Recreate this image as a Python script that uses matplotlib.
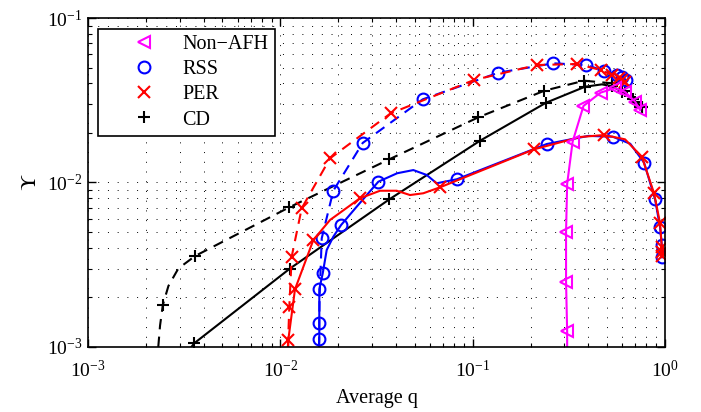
import matplotlib
matplotlib.use("Agg")
import matplotlib.pyplot as plt
from matplotlib.lines import Line2D
from matplotlib.ticker import LogLocator, NullFormatter

plt.rcParams['font.family'] = 'serif'
plt.rcParams['font.serif'] = ['Liberation Serif', 'DejaVu Serif']
plt.rcParams['mathtext.fontset'] = 'stix'
plt.rcParams['font.size'] = 12

# Non-AFH (solid, magenta)
nonafh_q = [0.310, 0.310, 0.306, 0.306, 0.310, 0.331, 0.377, 0.463, 0.55, 0.62, 0.70, 0.742]
nonafh_y = [1.0e-3, 1.25e-3, 2.5e-3, 5.0e-3, 9.8e-3, 0.0177, 0.0292, 0.0352, 0.0375, 0.0355, 0.031, 0.0276]
nonafh_mk = [1, 2, 3, 4, 5, 6, 7, 8, 9, 10, 11]

# RSS solid / dashed (blue)
rss_s_q = [0.0159, 0.01595, 0.01595, 0.01595, 0.01662, 0.01743, 0.01886, 0.02069, 0.02496, 0.03233,
           0.0405, 0.04916, 0.0577, 0.0650, 0.0827, 0.2429, 0.40, 0.5353, 0.66, 0.7789,
           0.8882, 0.943, 0.9625, 0.9625]
rss_s_y = [1.0e-3, 1.113e-3, 1.405e-3, 2.243e-3, 2.805e-3, 3.89e-3, 4.68e-3, 5.51e-3, 7.13e-3, 0.01011,
           0.01138, 0.0119, 0.01111, 9.89e-3, 0.01046, 0.01714, 0.0192, 0.01898, 0.0172, 0.0132,
           7.9e-3, 5.34e-3, 4.17e-3, 3.51e-3]
rss_s_mk = [1, 2, 3, 4, 7, 9, 14, 15, 17, 19, 20, 21, 22, 23]

rss_d_q = [0.0159, 0.0160, 0.01642, 0.01886, 0.02682, 0.05502, 0.136, 0.2628, 0.3888, 0.4824, 0.5615, 0.60, 0.63]
rss_d_y = [1.0e-3, 2.0e-3, 4.58e-3, 8.91e-3, 0.0174, 0.03204, 0.04649, 0.05303, 0.05179, 0.04781, 0.04502, 0.0435, 0.042]
rss_d_mk = [2, 3, 4, 5, 6, 7, 8, 9, 10, 11, 12]

# PER solid / dashed (red)
per_s_q = [0.0110, 0.01101, 0.01192, 0.01485, 0.01814, 0.02597, 0.0330, 0.0403, 0.04725, 0.0554,
           0.06769, 0.2086, 0.3618, 0.4824, 0.62, 0.7577, 0.8776, 0.943, 0.9625, 0.9625, 0.9625]
per_s_y = [1.0e-3, 1.11e-3, 2.24e-3, 4.47e-3, 5.92e-3, 8.02e-3, 8.91e-3, 8.91e-3, 8.39e-3, 8.6e-3,
           9.35e-3, 0.01591, 0.0189, 0.01944, 0.0183, 0.01435, 8.6e-3, 5.65e-3, 4.07e-3, 3.8e-3, 3.57e-3]
per_s_mk = [1, 2, 3, 5, 10, 11, 13, 15, 16, 17, 18, 19, 20]

per_d_q = [0.01095, 0.01114, 0.01146, 0.01292, 0.01814, 0.03751, 0.1017, 0.2154, 0.3477, 0.4636, 0.5289, 0.5771, 0.60, 0.62]
per_d_y = [1.0e-3, 1.76e-3, 3.54e-3, 6.97e-3, 0.01403, 0.02634, 0.04199, 0.05179, 0.05252, 0.04829, 0.04502, 0.04299, 0.0420, 0.0410]
per_d_mk = [1, 2, 3, 4, 5, 6, 7, 8, 9, 10, 11, 12, 13]

# CD solid / dashed (black)
cd_s_q = [3.45e-3, 3.57e-3, 0.01123, 0.03688, 0.1093, 0.2408, 0.3842, 0.47, 0.5289, 0.60, 0.68, 0.7577]
cd_s_y = [1.0e-3, 1.054e-3, 3.0e-3, 7.9e-3, 0.01795, 0.03055, 0.03822, 0.0395, 0.0385, 0.0356, 0.032, 0.0289]
cd_s_mk = [1, 2, 3, 4, 5, 6, 8, 9, 10, 11]

cd_d_q = [2.32e-3, 2.37e-3, 2.45e-3, 2.62e-3, 2.95e-3, 3.60e-3, 0.01114, 0.03688, 0.1071, 0.2360,
          0.3796, 0.5289, 0.62, 0.70, 0.7577]
cd_d_y = [1.0e-3, 1.35e-3, 1.80e-3, 2.35e-3, 3.0e-3, 3.57e-3, 7.07e-3, 0.01384, 0.02491, 0.03614,
          0.04158, 0.0401, 0.036, 0.031, 0.0289]
cd_d_mk = [2, 5, 6, 7, 8, 9, 10, 11, 12, 13, 14]

dash = (0, (5, 3.5))
fig = plt.figure(figsize=(7.01, 4.12), dpi=100)
ax = fig.add_axes([0.1255, 0.1578, 0.8231, 0.7985])

common = dict(lw=1.5, ms=8.5, mew=1.5, mfc='none')
ax.plot(cd_d_q, cd_d_y, color='k', ls=dash, marker='+', markevery=cd_d_mk, **common)
ax.plot(cd_s_q, cd_s_y, color='k', ls='-', marker='+', markevery=cd_s_mk, **common)
ax.plot(rss_d_q, rss_d_y, color='#0000ff', ls=dash, marker='o', markevery=rss_d_mk, **common)
ax.plot(rss_s_q, rss_s_y, color='#0000ff', ls='-', marker='o', markevery=rss_s_mk, **common)
ax.plot(per_d_q, per_d_y, color='#ff0000', ls=dash, marker='x', markevery=per_d_mk, **common)
ax.plot(per_s_q, per_s_y, color='#ff0000', ls='-', marker='x', markevery=per_s_mk, **common)
ax.plot(nonafh_q, nonafh_y, color='#ff00ff', ls='-', marker='<', markevery=nonafh_mk, **common)

ax.set_xscale('log')
ax.set_yscale('log')
ax.set_xlim(1e-3, 1)
ax.set_ylim(1e-3, 1e-1)
ax.xaxis.set_major_locator(LogLocator(base=10, numticks=10))
ax.xaxis.set_minor_locator(LogLocator(base=10, subs=range(2, 10), numticks=10))
ax.xaxis.set_minor_formatter(NullFormatter())
ax.yaxis.set_minor_formatter(NullFormatter())

ax.grid(True, which='both', color='k', ls=(0, (1, 9)), lw=0.7)
ax.tick_params(which='both', direction='in', top=True, right=True, labelsize=14)
ax.tick_params(axis='x', which='major', pad=9)
ax.tick_params(axis='y', which='major', pad=4)
ax.tick_params(which='major', length=6, width=1)
ax.tick_params(which='minor', length=3, width=0.8)
for s in ax.spines.values():
    s.set_linewidth(1.2)

ax.set_xlabel('Average q', fontsize=14.5, labelpad=6)
ax.set_ylabel(r'$\Upsilon$', fontsize=16, labelpad=4)

handles = [
    Line2D([], [], color='#ff00ff', ls='none', marker='<', ms=8.5, mew=1.5, mfc='none'),
    Line2D([], [], color='#0000ff', ls='none', marker='o', ms=8.5, mew=1.5, mfc='none'),
    Line2D([], [], color='#ff0000', ls='none', marker='x', ms=8.5, mew=1.5, mfc='none'),
    Line2D([], [], color='k', ls='none', marker='+', ms=8.5, mew=1.5, mfc='none'),
]
labels = ['Non\u2212AFH', 'RSS', 'PER', 'CD']
leg = ax.legend(handles, labels, loc='upper left', bbox_to_anchor=(0.0173, 0.9666),
                borderaxespad=0, fancybox=False, framealpha=1, edgecolor='k',
                handlelength=4.0, handletextpad=-0.1, borderpad=0.3, labelspacing=0.3,
                fontsize=14.5)
leg.get_frame().set_linewidth(1.2)

fig.savefig('out.png', dpi=100)
